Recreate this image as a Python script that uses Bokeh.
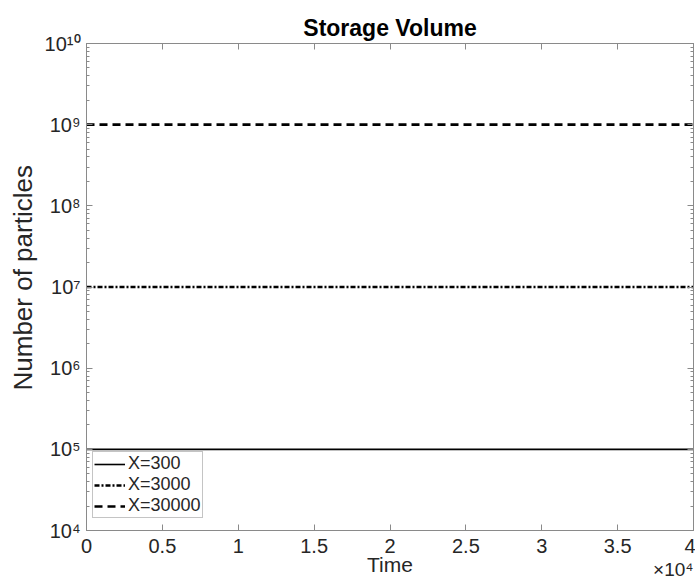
from bokeh.plotting import figure
from bokeh.models import (Range1d, LogAxis, LinearAxis, FixedTicker, CustomJSTickFormatter,
                          Title, Legend, LegendItem, ColumnDataSource)
from bokeh.embed import file_html
from bokeh.resources import INLINE

# ---- data ----
time = [0, 40000]
particles_300 = [1e5, 1e5]
particles_3000 = [1e7, 1e7]
particles_30000 = [1e9, 1e9]
series_labels = ["X=300", "X=3000", "X=30000"]
x_ticks = [0, 5000, 10000, 15000, 20000, 25000, 30000, 35000, 40000]
y_ticks = [1e4, 1e5, 1e6, 1e7, 1e8, 1e9, 1e10]
y_minor = [m * t for t in y_ticks[:-1] for m in range(2, 10)]

FONT = "Liberation Sans"
AX = "#8a8a8a"
TXT = "#262626"

W, H = 695, 582
p = figure(width=W, height=H, y_axis_type="log",
           x_range=Range1d(0, 40000), y_range=Range1d(1e4, 1e10),
           output_backend="svg", toolbar_location=None,
           min_border_left=86, min_border_right=2, min_border_top=43, min_border_bottom=52)
p.xgrid.visible = False
p.ygrid.visible = False
p.outline_line_color = AX
p.background_fill_color = "white"

xticker = FixedTicker(ticks=x_ticks, minor_ticks=[])
yticker = FixedTicker(ticks=y_ticks, minor_ticks=y_minor)

xfmt = CustomJSTickFormatter(code="return String(tick/10000);")
yfmt = CustomJSTickFormatter(code="""
const s = {"0":"\u2070","1":"\u00b9","2":"\u00b2","3":"\u00b3","4":"\u2074","5":"\u2075",
           "6":"\u2076","7":"\u2077","8":"\u2078","9":"\u2079","-":"\u207b"};
const e = Math.round(Math.log10(tick));
return "10" + String(e).split("").map(c => s[c]).join("");
""")
blank = CustomJSTickFormatter(code="return '';")

def style(ax, labels=True):
    ax.axis_line_color = AX
    ax.axis_line_width = 1
    ax.major_tick_line_color = AX
    ax.minor_tick_line_color = AX
    ax.major_tick_in = 6
    ax.major_tick_out = 0
    ax.minor_tick_in = 3
    ax.minor_tick_out = 0
    if labels:
        ax.major_label_text_font = FONT
        ax.major_label_text_font_size = "20px"
        ax.major_label_text_color = TXT
        ax.major_label_standoff = 6
    else:
        ax.major_label_text_font_size = "0px"
        ax.major_label_standoff = 0

bx = p.below[0]
bx.ticker = xticker
bx.formatter = xfmt
style(bx)
bx.major_label_standoff = 8
bx.axis_label = "Time"
bx.axis_label_text_font = FONT
bx.axis_label_text_font_size = "21px"
bx.axis_label_text_font_style = "normal"
bx.axis_label_text_color = TXT
bx.axis_label_standoff = -3

ly = p.left[0]
ly.ticker = yticker
ly.formatter = yfmt
style(ly)

tx = LinearAxis(ticker=xticker, formatter=blank)
style(tx, labels=False)
p.add_layout(tx, "above")
ry = LogAxis(ticker=yticker, formatter=blank)
style(ry, labels=False)
p.add_layout(ry, "right")

p.title.text = "Storage Volume"
p.title.align = "center"
p.title.text_font = FONT
p.title.text_font_size = "23px"
p.title.text_font_style = "bold"
p.title.text_color = "black"
p.title.standoff = 6

p.add_layout(Title(text="Number of particles", align="left", offset=140, text_font=FONT,
                   text_font_size="26px", text_font_style="normal", text_color=TXT,
                   standoff=7), "left")
p.add_layout(Title(text="\u00d710\u2074", align="right", vertical_align="top", text_font=FONT,
                   text_font_size="19px", text_font_style="normal", text_color=TXT,
                   standoff=-40), "below")

src = ColumnDataSource(dict(t=time, a=particles_300, b=particles_3000, c=particles_30000))
r1 = p.line("t", "a", source=src, line_color="black", line_width=1.6)
r2 = p.line("t", "b", source=src, line_color="black", line_width=2.5, line_dash="5 2 2 2")
r3 = p.line("t", "c", source=src, line_color="black", line_width=2.6, line_dash="8 5")

legend = Legend(items=[LegendItem(label=series_labels[0], renderers=[r1]),
                       LegendItem(label=series_labels[1], renderers=[r2]),
                       LegendItem(label=series_labels[2], renderers=[r3])],
                location=(6, 12), orientation="vertical",
                border_line_color=AX, border_line_width=1, background_fill_color="white",
                background_fill_alpha=1, padding=1, spacing=0, margin=0,
                label_text_font=FONT, label_text_font_size="18px", label_text_color=TXT,
                glyph_width=31, glyph_height=18, label_height=18, label_standoff=3)
p.add_layout(legend, "center")

open("out.html", "w", encoding="utf-8").write(file_html(p, INLINE))
